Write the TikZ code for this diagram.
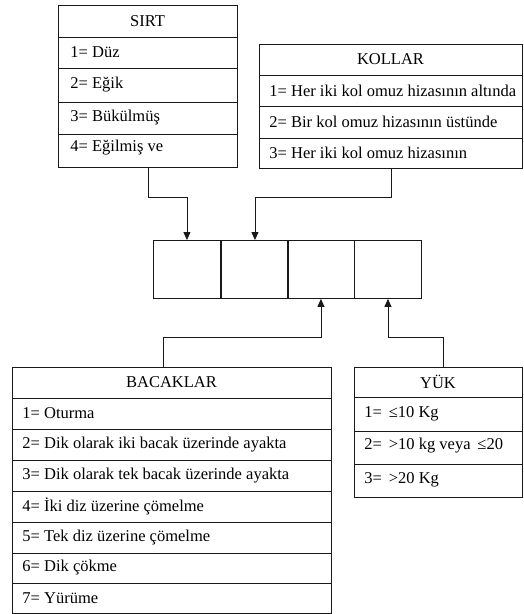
\documentclass[tikz,border=0pt]{standalone}
\usepackage{fontspec}
\setmainfont{Liberation Serif}
\usetikzlibrary{arrows.meta}
\begin{document}
\begin{tikzpicture}[x=1pt,y=-1pt,
  line width=0.9pt,
  frame/.style={draw=black!90, line width=0.9pt, inner sep=0pt, anchor=north west},
  head/.style={font=\fontsize{16.5}{18}\selectfont, inner sep=0pt},
  item/.style={font=\fontsize{16.5}{18}\selectfont, anchor=west, inner sep=0pt},
  cell/.style={draw=black!90, line width=0.9pt, minimum width=67pt, minimum height=58pt, inner sep=0pt, anchor=north west},
  arr/.style={draw=black!90, line width=0.9pt, -{Triangle[length=8pt,width=7pt]}}]
\useasboundingbox (0,0) rectangle (523,614);

% ---- SIRT ----
\node[frame, minimum width=179pt, minimum height=162pt] (sirt) at (58,5) {};
\foreach \yy in {37,68,102,134} \draw[black!90] (58,\yy) -- (237,\yy);
\node[head] (sirtH) at (147.5,21) {SIRT};
\node[item] (s1) at (70,52.5) {1= Düz};
\node[item] (s2) at (70,85) {2= Eğik};
\node[item] (s3) at (70,118) {3= Bükülmüş};
\node[item] (s4) at (70,148) {4= Eğilmiş ve};

% ---- KOLLAR ----
\node[frame, minimum width=263pt, minimum height=124pt] (kol) at (259,44) {};
\foreach \yy in {75,106,138} \draw[black!90] (259,\yy) -- (522,\yy);
\node[head] (kolH) at (390.5,59.5) {KOLLAR};
\node[item] (k1) at (269,90.5) {1= Her iki kol omuz hizasının altında};
\node[item] (k2) at (269,122) {2= Bir kol omuz hizasının üstünde};
\node[item] (k3) at (269,153) {3= Her iki kol omuz hizasının};

% ---- code cells ----
\node[cell] (c1) at (153,240) {};
\node[cell] (c2) at (221,240) {};
\node[cell] (c3) at (287,240) {};
\node[cell] (c4) at (354,240) {};

% ---- BACAKLAR ----
\node[frame, minimum width=319pt, minimum height=245.5pt] (bac) at (12,367) {};
\foreach \yy in {398,429,460,491,522,553,583} \draw[black!90] (12,\yy) -- (331,\yy);
\node[head] (bacH) at (171.5,382.5) {BACAKLAR};
\node[item] (b1) at (22,413.5) {1= Oturma};
\node[item] (b2) at (22,444.5) {2= Dik olarak iki bacak üzerinde ayakta};
\node[item] (b3) at (22,475.5) {3= Dik olarak tek bacak üzerinde ayakta};
\node[item] (b4) at (22,506.5) {4= İki diz üzerine çömelme};
\node[item] (b5) at (22,537.5) {5= Tek diz üzerine çömelme};
\node[item] (b6) at (22,568) {6= Dik çökme};
\node[item] (b7) at (22,598) {7= Yürüme};

% ---- YÜK ----
\node[frame, minimum width=168pt, minimum height=130pt] (yuk) at (354,367) {};
\foreach \yy in {397,431,464} \draw[black!90] (354,\yy) -- (522,\yy);
\node[head] (yukH) at (438,382) {YÜK};
\node[item] (y1) at (364,414) {1=\, ≤10 Kg};
\node[item] (y2) at (364,446) {2=\, >10 kg veya\, ≤20};
\node[item] (y3) at (364,480) {3=\, >20 Kg};

% ---- connectors ----
\coordinate (topbend) at (0,197);
\coordinate (botbend) at (0,337);
\coordinate (bacstem) at (163,367);
\coordinate (yukstem) at (443,367);
\draw[arr] (sirt.south) |- (c1.north |- topbend) -- (c1.north);
\draw[arr] (kol.south) |- (c2.north |- topbend) -- (c2.north);
\draw[arr] (bacstem) |- (c3.south |- botbend) -- (c3.south);
\draw[arr] (yukstem) |- (c4.south |- botbend) -- (c4.south);
\end{tikzpicture}
\end{document}
